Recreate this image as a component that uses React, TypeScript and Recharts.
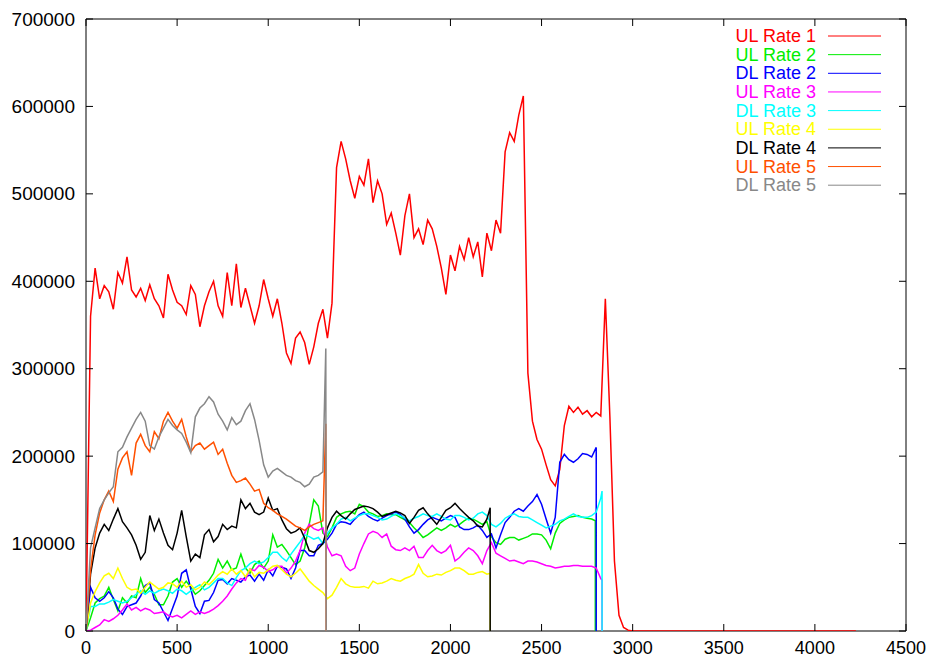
import { Line, LineChart, ReferenceArea, XAxis, YAxis } from 'recharts';

// Throughput per connection over time. Samples every 25 s, values in thousands.
const STEP = 25;
const UNIT = 1000;

const ul1 = [
  0, 360, 415, 380, 395, 388, 368, 410, 398, 428,
  390, 382, 392, 378, 396, 380, 372, 358, 408, 390,
  376, 372, 362, 395, 385, 348, 372, 388, 400, 372,
  360, 410, 372, 420, 370, 392, 372, 352, 372, 402,
  380, 360, 380, 352, 318, 306, 335, 342, 330, 305,
  325, 352, 368, 335, 375, 530, 560, 540, 515, 495,
  520, 510, 540, 490, 515, 500, 465, 478, 455, 430,
  475, 500, 450, 460, 442, 470, 460, 440, 415, 385,
  430, 412, 440, 425, 450, 428, 445, 405, 455, 435,
  470, 455, 548, 570, 560, 590, 612, 295, 240, 219,
  208, 190, 173, 166, 185, 235, 257, 250, 256, 248,
  252, 245, 250, 246, 380, 245, 80, 18, 4, 1,
  0,
];
const ul1Tail: [number, number][] = [[4225, 0]];

const ul2 = [
  0, 15, 32, 37, 40, 50, 36, 23, 38, 32,
  40, 38, 60, 44, 50, 42, 30, 30, 40, 56,
  60, 50, 57, 50, 42, 46, 52, 58, 66, 82,
  72, 80, 70, 72, 88, 72, 66, 76, 80, 72,
  80, 110, 96, 99, 92, 84, 76, 80, 95, 122,
  150, 143, 112, 108, 118, 130, 134, 136, 137, 134,
  145, 142, 136, 134, 131, 132, 134, 133, 133, 130,
  127, 124, 118, 113, 107, 110, 114, 118, 115, 118,
  122, 119, 122, 126, 129, 128, 125, 122, 125, 108,
  101, 99, 105, 107, 107, 104, 106, 108, 111, 111,
  110, 104, 94, 112, 123, 127, 130, 131, 132, 130,
  129, 128,
];
const ul2Tail: [number, number][] = [[2795, 126], [2795, 0]];

const dl2 = [
  0, 50, 38, 34, 38, 45, 38, 25, 19, 28,
  30, 32, 40, 52, 55, 36, 32, 22, 12, 26,
  40, 66, 70, 48, 28, 20, 34, 35, 44, 58,
  59, 54, 60, 58, 56, 62, 64, 57, 65, 58,
  70, 63, 74, 73, 71, 60, 72, 92, 92, 86,
  86, 98, 100, 105, 112, 122, 125, 124, 122, 128,
  133, 136, 131, 128, 126, 129, 132, 134, 136, 133,
  128, 119, 112, 116, 122, 127, 130, 128, 126, 129,
  132, 130, 119, 116, 116, 118, 121, 115, 107, 111,
  95, 110, 124, 130, 137, 140, 137, 143, 148, 156,
  145, 128, 112, 130, 193, 202, 196, 193, 197, 203,
  202, 199, 210,
];
const dl2Tail: [number, number][] = [[2800, 0]];

const ul3 = [
  0, 1, 4, 7, 13, 11, 14, 18, 24, 31,
  24, 27, 23, 26, 24, 20, 21, 22, 18, 16,
  18, 15, 19, 23, 19, 22, 20, 22, 25, 29,
  34, 40, 48, 55, 60, 58, 71, 69, 75, 73,
  68, 70, 74, 74, 66, 72, 80, 92, 112, 122,
  117, 115, 118, 96, 86, 88, 86, 74, 69, 72,
  88, 100, 111, 114, 112, 107, 111, 97, 93, 92,
  95, 92, 97, 84, 84, 92, 98, 92, 89, 92,
  98, 80, 84, 90, 95, 92, 86, 77, 92, 101,
  89, 86, 83, 80, 81, 79, 77, 80, 80, 79,
  77, 75, 74, 72, 73, 74, 74, 75, 75, 74,
  74, 74, 72, 60,
];
const ul3Tail: [number, number][] = [[2832, 58], [2832, 0]];

const dl3 = [
  0, 28, 28, 31, 31, 33, 36, 34, 32, 34,
  38, 42, 46, 42, 46, 43, 46, 48, 46, 43,
  48, 46, 42, 46, 50, 53, 47, 50, 55, 60,
  60, 55, 52, 61, 69, 72, 77, 80, 77, 79,
  84, 90, 90, 84, 80, 88, 95, 102, 110, 108,
  105, 107, 100, 112, 118, 122, 128, 130, 126, 129,
  132, 134, 134, 132, 130, 127, 128, 131, 134, 132,
  129, 126, 129, 131, 134, 132, 131, 134, 131, 128,
  127, 132, 132, 130, 127, 129, 134, 136, 132, 122,
  119, 123, 129, 132, 134, 131, 130, 130, 127, 124,
  121, 118, 120, 122, 126, 128, 131, 134, 131, 130,
  130, 132, 136, 152,
];
const dl3Tail: [number, number][] = [[2832, 160], [2832, 0]];

const ul4 = [
  0, 32, 45, 55, 63, 66, 60, 72, 60, 50,
  47, 48, 43, 50, 56, 52, 48, 50, 55, 54,
  50, 57, 50, 53, 47, 50, 56, 53, 58, 64,
  68, 65, 71, 65, 69, 62, 71, 62, 67, 66,
  70, 74, 75, 70, 65, 62, 66, 71, 64, 57,
  52, 48, 44, 37, 41, 50, 60, 54, 51, 50,
  50, 51, 49, 57, 54, 55, 57, 60, 58, 57,
  60, 62, 65, 76, 66, 62, 63, 65, 64, 67,
  69, 72, 72, 69, 65, 65, 67, 68, 65,
];
const ul4Tail: [number, number][] = [[2218, 66], [2218, 0]];

const dl4 = [
  0, 65, 95, 112, 122, 115, 128, 140, 125, 118,
  110, 98, 82, 90, 132, 115, 128, 112, 98, 93,
  112, 138, 108, 80, 88, 84, 110, 116, 102, 108,
  122, 116, 120, 118, 150, 140, 146, 136, 133, 136,
  152, 138, 140, 127, 117, 112, 114, 118, 106, 92,
  90, 94, 100, 118, 130, 137, 132, 128, 134, 139,
  141, 143, 142, 140, 136, 131, 133, 135, 137, 135,
  132, 123, 130, 138, 141, 134, 128, 122, 130, 138,
  141, 146, 140, 135, 130, 126, 120, 119, 128,
];
const dl4Tail: [number, number][] = [[2218, 141], [2218, 0]];

const ul5 = [
  0, 70, 110, 135, 150, 160, 148, 185, 198, 205,
  178, 215, 225, 212, 205, 228, 220, 240, 250, 240,
  232, 242, 222, 205, 212, 215, 208, 212, 216, 202,
  208, 192, 178, 170, 172, 175, 168, 160, 162, 146,
  141, 138, 134, 131, 128, 124, 120, 118, 115, 119,
  122, 124, 126,
];
const ul5Tail: [number, number][] = [[1316, 237], [1318, 0]];

const dl5 = [
  0, 95, 118, 140, 150, 158, 165, 205, 210, 222,
  232, 242, 250, 240, 212, 208, 222, 232, 242, 235,
  230, 226, 216, 204, 245, 255, 260, 268, 262, 248,
  240, 230, 244, 236, 240, 252, 260, 242, 218, 190,
  176, 183, 186, 182, 178, 176, 172, 170, 165, 168,
  176, 178, 182,
];
const dl5Tail: [number, number][] = [[1316, 323], [1318, 0]];

const xTicks = [0, 500, 1000, 1500, 2000, 2500, 3000, 3500, 4000, 4500];
const yTicks = [0, 100000, 200000, 300000, 400000, 500000, 600000, 700000];

interface Point {
  t: number;
  v: number;
}

function toPoints(values: number[], tail: [number, number][]): Point[] {
  const pts = values.map((v, i) => ({ t: i * STEP, v: v * UNIT }));
  tail.forEach(([t, v]) => pts.push({ t, v: v * UNIT }));
  return pts;
}

// gnuplot draws in this order, last one on top
const SERIES = [
  { name: 'UL Rate 1', color: '#ff0000', points: toPoints(ul1, ul1Tail) },
  { name: 'UL Rate 2', color: '#00ee00', points: toPoints(ul2, ul2Tail) },
  { name: 'DL Rate 2', color: '#0000ff', points: toPoints(dl2, dl2Tail) },
  { name: 'UL Rate 3', color: '#ff00ff', points: toPoints(ul3, ul3Tail) },
  { name: 'DL Rate 3', color: '#00ffff', points: toPoints(dl3, dl3Tail) },
  { name: 'UL Rate 4', color: '#ffff00', points: toPoints(ul4, ul4Tail) },
  { name: 'DL Rate 4', color: '#000000', points: toPoints(dl4, dl4Tail) },
  { name: 'UL Rate 5', color: '#ff5000', points: toPoints(ul5, ul5Tail) },
  { name: 'DL Rate 5', color: '#888888', points: toPoints(dl5, dl5Tail) },
];

const WIDTH = 930;
const HEIGHT = 662;
const MARGIN = { top: 19, right: 24, bottom: 0, left: 0 };
const Y_AXIS_WIDTH = 86;
const X_AXIS_HEIGHT = 31;
const PLOT_LEFT = MARGIN.left + Y_AXIS_WIDTH;
const PLOT_RIGHT = WIDTH - MARGIN.right;
const PLOT_TOP = MARGIN.top;
const PLOT_BOTTOM = HEIGHT - MARGIN.bottom - X_AXIS_HEIGHT;
const TICK_LEN = 7;
const FONT = '"Liberation Sans", Arial, Helvetica, sans-serif';
const FONT_SIZE = 18;

// gnuplot-style ticks: pointing inwards, mirrored on the opposite border
function YTick(props: any) {
  const { y, payload } = props;
  return (
    <g>
      <line x1={PLOT_LEFT} x2={PLOT_LEFT + TICK_LEN} y1={y} y2={y} stroke="#000" />
      <line x1={PLOT_RIGHT - TICK_LEN} x2={PLOT_RIGHT} y1={y} y2={y} stroke="#000" />
      <text
        x={PLOT_LEFT - 11}
        y={y}
        textAnchor="end"
        dominantBaseline="central"
        fontFamily={FONT}
        fontSize={19}
        fill="#000"
      >
        {payload.value}
      </text>
    </g>
  );
}

function XTick(props: any) {
  const { x, payload } = props;
  return (
    <g>
      <line x1={x} x2={x} y1={PLOT_BOTTOM} y2={PLOT_BOTTOM - TICK_LEN} stroke="#000" />
      <line x1={x} x2={x} y1={PLOT_TOP} y2={PLOT_TOP + TICK_LEN} stroke="#000" />
      <text
        x={x}
        y={PLOT_BOTTOM + 17}
        textAnchor="middle"
        dominantBaseline="central"
        fontFamily={FONT}
        fontSize={FONT_SIZE}
        fill="#000"
      >
        {payload.value}
      </text>
    </g>
  );
}

function KeyBox() {
  return (
    <svg
      width={WIDTH}
      height={HEIGHT}
      style={{ position: 'absolute', left: 0, top: 0, pointerEvents: 'none' }}
    >
      {SERIES.map((s, i) => {
        const y = 36 + i * 18.65;
        return (
          <g key={s.name}>
            <text
              x={816}
              y={y}
              textAnchor="end"
              dominantBaseline="central"
              fontFamily={FONT}
              fontSize={FONT_SIZE}
              fill={s.color}
            >
              {s.name}
            </text>
            <line x1={828} x2={881} y1={y} y2={y} stroke={s.color} strokeWidth={1} />
          </g>
        );
      })}
    </svg>
  );
}

export default function App() {
  return (
    <div style={{ position: 'absolute', left: 0, top: 0, width: WIDTH, height: HEIGHT, background: '#fff' }}>
      <LineChart width={WIDTH} height={HEIGHT} margin={MARGIN}>
        <XAxis
          type="number"
          dataKey="t"
          domain={[0, 4500]}
          ticks={xTicks}
          interval={0}
          height={X_AXIS_HEIGHT}
          axisLine={false}
          tickLine={false}
          tick={(p: any) => <XTick {...p} />}
          allowDataOverflow
        />
        <YAxis
          type="number"
          domain={[0, 700000]}
          ticks={yTicks}
          interval={0}
          width={Y_AXIS_WIDTH}
          axisLine={false}
          tickLine={false}
          tick={(p: any) => <YTick {...p} />}
          allowDataOverflow
        />
        <ReferenceArea
          x1={0}
          x2={4500}
          y1={0}
          y2={700000}
          fill="none"
          stroke="#000"
          strokeWidth={1}
          ifOverflow="visible"
        />
        {SERIES.map((s) => (
          <Line
            key={s.name}
            name={s.name}
            data={s.points}
            dataKey="v"
            type="linear"
            stroke={s.color}
            strokeWidth={1.5}
            dot={false}
            activeDot={false}
            isAnimationActive={false}
          />
        ))}
      </LineChart>
      <KeyBox />
    </div>
  );
}
